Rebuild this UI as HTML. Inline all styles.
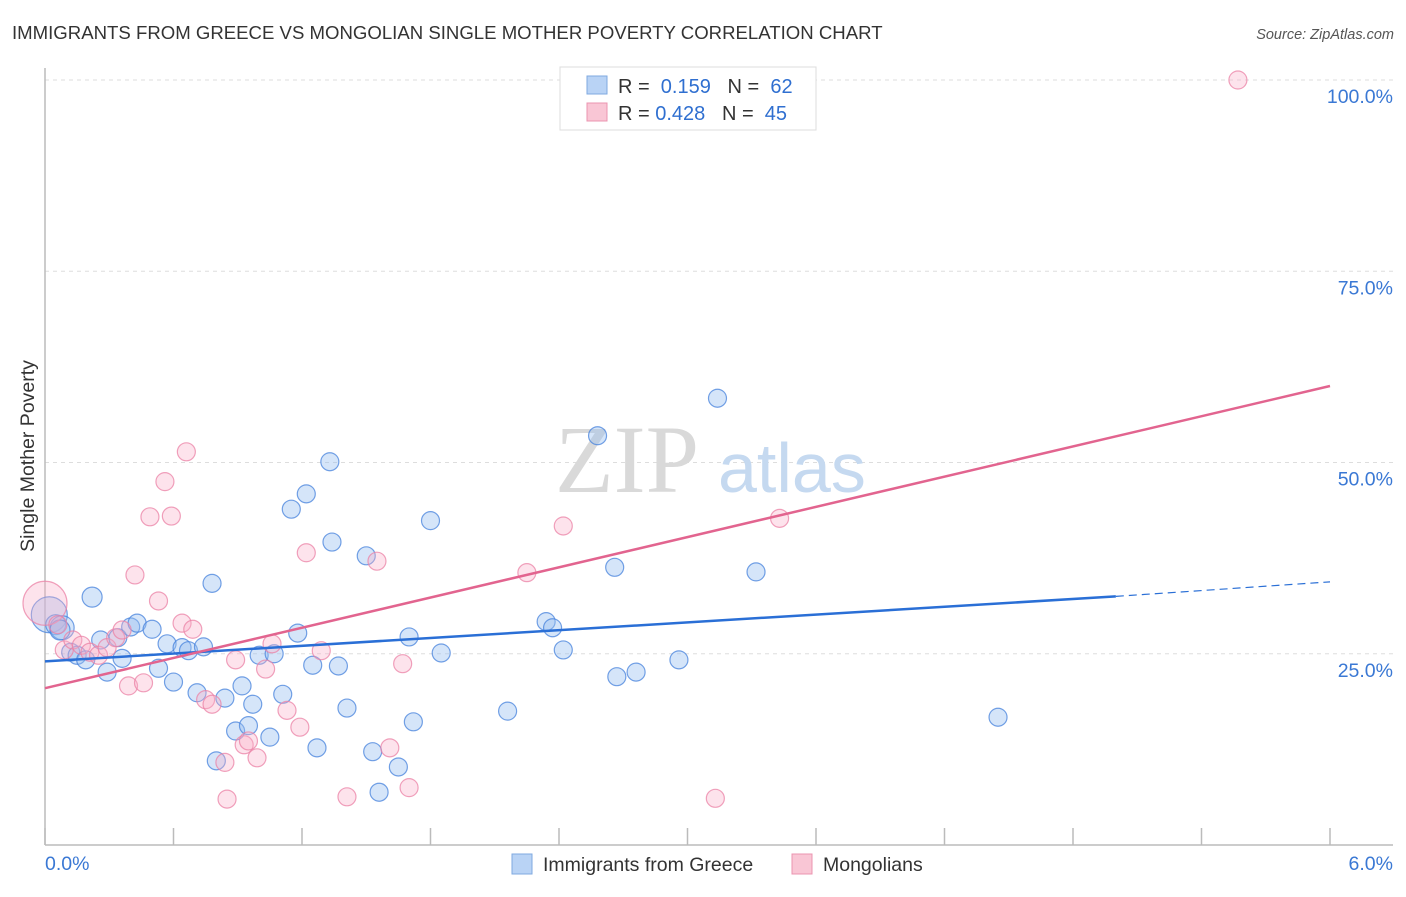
<!DOCTYPE html>
<html><head><meta charset="utf-8"><style>
body{margin:0;background:#fff;font-family:"Liberation Sans",sans-serif}
svg text{font-family:"Liberation Sans",sans-serif}
</style></head><body>
<svg id="c" width="1406" height="892" xmlns="http://www.w3.org/2000/svg">
<text x="12" y="39" font-size="18.6" fill="#333">IMMIGRANTS FROM GREECE VS MONGOLIAN SINGLE MOTHER POVERTY CORRELATION CHART</text>
<text x="1394" y="39" font-size="14.5" fill="#555" font-style="italic" text-anchor="end">Source: ZipAtlas.com</text>
<g id="grid"></g>
<text x="555" y="492" font-size="96" fill="#d9d9d9" style="font-family:'Liberation Serif',serif">ZIP</text>
<text x="718" y="492" font-size="70" fill="#c5d9f0">atlas</text>
<g id="marks"></g>
<text transform="translate(34,456) rotate(-90)" font-size="19.5" fill="#333" text-anchor="middle">Single Mother Poverty</text>
<g>
<rect x="560" y="67" width="256" height="63" fill="#fff" stroke="#ddd"/>
<rect x="587" y="76" width="20" height="18" fill="#b9d3f5" stroke="#7fa9e0"/>
<rect x="587" y="103" width="20" height="18" fill="#f9c6d5" stroke="#eb94b0"/>
<text x="618" y="93" font-size="20" fill="#333" xml:space="preserve">R =  <tspan fill="#2f6fd0">0.159</tspan>   N =  <tspan fill="#2f6fd0">62</tspan></text>
<text x="618" y="120" font-size="20" fill="#333" xml:space="preserve">R = <tspan fill="#2f6fd0">0.428</tspan>   N =  <tspan fill="#2f6fd0">45</tspan></text>
</g>
<g>
<rect x="512" y="854" width="20" height="20" fill="#b9d3f5" stroke="#7fa9e0"/>
<text x="543" y="871" font-size="19.5" fill="#333">Immigrants from Greece</text>
<rect x="792" y="854" width="20" height="20" fill="#f9c6d5" stroke="#eb94b0"/>
<text x="823" y="871" font-size="19.5" fill="#333">Mongolians</text>
</g>
</svg>
<script>
const yTicks=[25,50,75,100];
const yTickLabels=["25.0%","50.0%","75.0%","100.0%"];
const xTickLabels=["0.0%","6.0%"];
const blueX=[0.02,0.05,0.08,0.12,0.15,0.19,0.22,0.26,0.29,0.34,0.36,0.40,0.43,0.50,0.53,0.57,0.60,0.64,0.67,0.71,0.74,0.78,0.80,0.84,0.89,0.92,0.95,0.97,1.00,1.05,1.07,1.11,1.15,1.18,1.22,1.25,1.27,1.33,1.34,1.37,1.41,1.50,1.53,1.56,1.65,1.70,1.72,1.80,1.85,2.16,2.34,2.37,2.42,2.58,2.66,2.67,2.76,2.96,3.14,3.32,4.45,0.07];
const blueY=[30.1,28.8,28.4,25.2,24.8,24.2,32.4,26.8,22.6,27.1,24.4,28.5,29.0,28.2,23.1,26.3,21.3,25.8,25.4,19.9,25.9,34.2,11.0,19.2,14.9,20.8,15.6,18.4,24.8,14.1,25.0,19.7,43.9,27.7,45.9,23.5,12.7,50.1,39.6,23.4,17.9,37.8,12.2,6.9,10.2,27.2,16.1,42.4,25.1,17.5,29.2,28.4,25.5,53.5,36.3,22.0,22.6,24.2,58.4,35.7,16.7,28.1];
const blueR=[18,10,12,9,9,9,10,9,9,9,9,9,9,9,9,9,9,9,9,9,9,9,9,9,9,9,9,9,9,9,9,9,9,9,9,9,9,9,9,9,9,9,9,9,9,9,9,9,9,9,9,9,9,9,9,9,9,9,9,9,9,10];
const pinkX=[0.0,0.06,0.09,0.13,0.17,0.21,0.25,0.29,0.33,0.36,0.39,0.42,0.46,0.49,0.53,0.56,0.59,0.64,0.66,0.69,0.75,0.78,0.84,0.85,0.89,0.93,0.95,0.99,1.03,1.06,1.13,1.19,1.22,1.29,1.41,1.55,1.61,1.67,1.70,2.25,2.42,3.13,3.43,5.57];
const pinkY=[31.6,28.8,25.5,26.8,26.1,25.2,24.8,25.8,27.1,28.1,20.8,35.3,21.2,42.9,31.9,47.5,43.0,29.0,51.4,28.2,19.0,18.4,10.8,6.0,24.2,13.1,13.6,11.4,23.0,26.3,17.6,15.4,38.2,25.4,6.3,37.1,12.7,23.7,7.5,35.6,41.7,6.1,42.7,100];
const pinkR=[22,9,9,9,9,9,9,9,9,9,9,9,9,9,9,9,9,9,9,9,9,9,9,9,9,9,9,9,9,9,9,9,9,9,9,9,9,9,9,9,9,9,9,9];
const blueTrend=[[0,24.0],[5.0,32.5],[6.0,34.4]];
const pinkTrend=[[0,20.5],[6.0,60.0]];
const NS="http://www.w3.org/2000/svg";
const X=v=>45+v/6*1285, Y=v=>845-v*7.65;
function mk(t,a,p){const e=document.createElementNS(NS,t);for(const k in a)e.setAttribute(k,a[k]);p.appendChild(e);return e;}
const g=document.getElementById('grid'), m=document.getElementById('marks');
yTicks.forEach((t,i)=>{
 const l=mk('line',{x1:45,x2:1393,y1:Y(t),y2:Y(t),stroke:'#ddd','stroke-dasharray':'4,4'},g);
 
 
 const tx=mk('text',{x:1393,y:Y(t)+23,'font-size':19.5,fill:'#3a78d4','text-anchor':'end'},g);
 tx.textContent=yTickLabels[i];
 
 
});
const ax=mk('line',{x1:45,x2:45,y1:68,y2:845,stroke:'#bbb','stroke-width':1.5},g);


const bx=mk('line',{x1:45,x2:1393,y1:845,y2:845,stroke:'#bbb','stroke-width':1.5},g);


for(let i=0;i<=10;i++){const v=i*0.6;const t=mk('line',{x1:X(v),x2:X(v),y1:828,y2:845,stroke:'#bbb','stroke-width':1.5},g);
 
 }
[[0,'start',45],[6,'end',1393]].forEach((d,i)=>{const t=mk('text',{x:d[2],y:870,'font-size':19.5,fill:'#3a78d4','text-anchor':d[1]},g);t.textContent=xTickLabels[i];
 
 });
function pts(xs,ys,rs,f,s,name){xs.forEach((x,i)=>{const c=mk('circle',{cx:X(x),cy:Y(ys[i]),r:rs[i],fill:f,stroke:s,'stroke-width':1.2},m);
 
 });}
pts(blueX,blueY,blueR,'rgba(150,190,240,0.4)','rgba(70,130,220,0.75)','point-greece');
pts(pinkX,pinkY,pinkR,'rgba(248,175,200,0.35)','rgba(235,130,165,0.75)','point-mongolian');
let l=mk('line',{x1:X(blueTrend[0][0]),y1:Y(blueTrend[0][1]),x2:X(blueTrend[1][0]),y2:Y(blueTrend[1][1]),stroke:'#2a6fd6','stroke-width':2.5},m);


l=mk('line',{x1:X(blueTrend[1][0]),y1:Y(blueTrend[1][1]),x2:X(blueTrend[2][0]),y2:Y(blueTrend[2][1]),stroke:'#2a6fd6','stroke-width':1.2,'stroke-dasharray':'8,5'},m);


l=mk('line',{x1:X(pinkTrend[0][0]),y1:Y(pinkTrend[0][1]),x2:X(pinkTrend[1][0]),y2:Y(pinkTrend[1][1]),stroke:'#e2648f','stroke-width':2.5},m);


</script>
</body></html>
